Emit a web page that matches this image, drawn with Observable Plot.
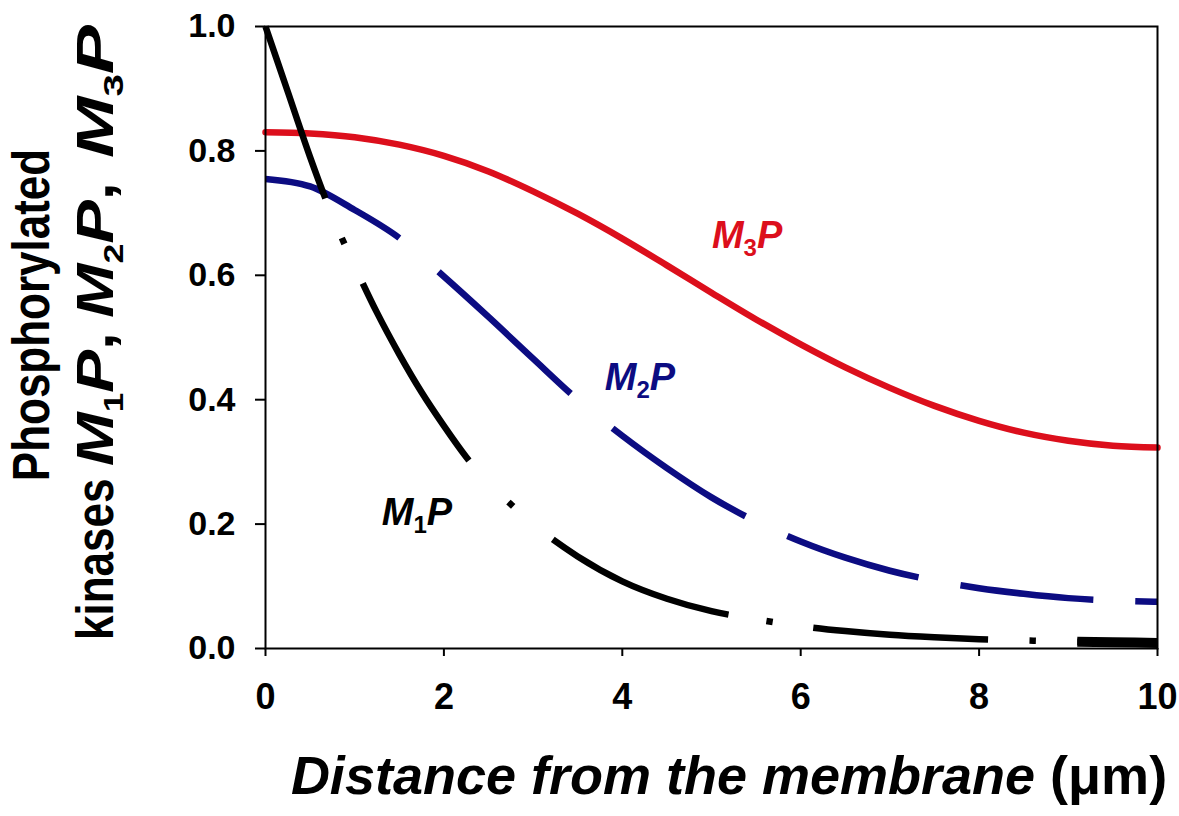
<!DOCTYPE html>
<html>
<head>
<meta charset="utf-8">
<script src="https://cdn.jsdelivr.net/npm/d3@7"></script>
<script src="https://cdn.jsdelivr.net/npm/@observablehq/plot@0.6"></script>
<style>
  html, body { margin: 0; padding: 0; background: #fff; }
  svg { display: block; }
  g[aria-label="x-axis tick label"] text { font-size: 36px; font-weight: bold; }
  g[aria-label="y-axis tick label"] text { font-size: 34px; font-weight: bold; }
</style>
</head>
<body>
<div id="chart"></div>
<script>
// ---------- data ----------
const xTicks = [0, 2, 4, 6, 8, 10];
const yTicks = [0, 0.2, 0.4, 0.6, 0.8, 1.0];

const m1x = [0, 0.25, 0.5, 0.75, 1, 1.25, 1.5, 1.75, 2, 2.25, 2.5, 2.75, 3, 3.5, 4, 4.5, 5, 5.5, 6, 6.5, 7, 7.5, 8, 8.5, 9, 9.5, 10];
const m1y = [1.0, 0.895, 0.79, 0.695, 0.615, 0.54, 0.473, 0.412, 0.358, 0.308, 0.266, 0.232, 0.2, 0.148, 0.108, 0.08, 0.06, 0.047, 0.036, 0.028, 0.022, 0.018, 0.015, 0.013, 0.011, 0.01, 0.009];

const m2x = [0, 0.5, 1, 1.5, 2, 2.5, 3, 3.5, 4, 4.5, 5, 5.5, 6, 6.5, 7, 7.5, 8, 8.5, 9, 9.5, 10];
const m2y = [0.755, 0.743, 0.705, 0.66, 0.598, 0.533, 0.466, 0.40, 0.342, 0.29, 0.243, 0.204, 0.172, 0.146, 0.125, 0.109, 0.097, 0.088, 0.081, 0.077, 0.075];

const m3x = [0, 0.5, 1, 1.5, 2, 2.5, 3, 3.5, 4, 4.5, 5, 5.5, 6, 6.5, 7, 7.5, 8, 8.5, 9, 9.5, 10];
const m3y = [0.83, 0.828, 0.822, 0.81, 0.792, 0.767, 0.735, 0.699, 0.659, 0.616, 0.572, 0.529, 0.489, 0.452, 0.419, 0.39, 0.366, 0.347, 0.334, 0.326, 0.323];

const seriesNames = ["M1P", "M2P", "M3P"];
const seriesColors = ["#000000", "#0c0c82", "#dc0f1c"];
const labelX = [1.31, 3.81, 5.01];
const labelY = [0.198, 0.415, 0.643];

// ---------- line style: dash pieces given in x units (dots have start == end) ----------
const m1DashStyle = [[0, 0.67], [0.87, 0.87], [1.09, 2.28], [2.75, 2.75], [3.22, 5.19], [5.65, 5.65], [6.14, 8.1], [8.6, 8.6], [9.1, 10]];
const m1HeavyStyle = [[9.1, 10]];
const m2DashStyle = [[0, 1.5], [1.94, 3.42], [3.89, 5.38], [5.85, 7.32], [7.79, 9.28], [9.75, 10]];

// ---------- build ----------
const toRows = (xs, ys) => xs.map((x, i) => ({x, y: ys[i]}));
const d1 = toRows(m1x, m1y), d2 = toRows(m2x, m2y), d3r = toRows(m3x, m3y);

const font = "'Liberation Sans', Arial, Helvetica, sans-serif";

const plot = Plot.plot({
  width: 1179,
  height: 816,
  marginLeft: 265,
  marginRight: 22,
  marginTop: 26,
  marginBottom: 168,
  style: {fontFamily: font, background: "#fff", color: "#000", overflow: "visible"},
  x: {domain: [0, 10]},
  y: {domain: [0, 1]},
  marks: [
    Plot.line(d3r, {x: "x", y: "y", stroke: seriesColors[2], strokeWidth: 6.5, curve: "monotone-x"}),
    Plot.line(d2, {x: "x", y: "y", stroke: seriesColors[1], strokeWidth: 6.5, curve: "monotone-x", strokeLinecap: "butt"}),
    Plot.line(d1, {x: "x", y: "y", stroke: seriesColors[0], strokeWidth: 6.5, curve: "monotone-x", strokeLinecap: "butt"}),
    Plot.line(d1, {x: "x", y: "y", stroke: seriesColors[0], strokeWidth: 10, curve: "monotone-x", strokeLinecap: "butt"}),
    Plot.frame({stroke: "#000", strokeWidth: 2}),
    Plot.axisX({ticks: xTicks, tickSize: 8, tickPadding: 27, tickFormat: d => String(d),
      fontSize: 36, fontWeight: "bold", strokeWidth: 2, label: null}),
    Plot.axisY({ticks: yTicks, tickSize: 10, tickPadding: 20, tickFormat: d3.format(".1f"),
      fontSize: 34, fontWeight: "bold", strokeWidth: 2, label: null})
  ]
});

document.getElementById("chart").appendChild(plot);

const svg = d3.select(plot);
const sx = plot.scale("x"), sy = plot.scale("y");

// ---------- dash patterns placed along each path ----------
function lengthAtX(path, px) {
  let lo = 0, hi = path.getTotalLength();
  for (let k = 0; k < 40; k++) {
    const mid = (lo + hi) / 2;
    if (path.getPointAtLength(mid).x < px) lo = mid; else hi = mid;
  }
  return (lo + hi) / 2;
}
function applyDashes(path, pieces, dotHalf) {
  const total = path.getTotalLength();
  const arr = [0];
  let pos = 0;
  pieces.forEach(([a, b]) => {
    let La = a <= 0 ? 0 : lengthAtX(path, sx.apply(a));
    let Lb = b >= 10 ? total : lengthAtX(path, sx.apply(b));
    if (a === b) { La -= dotHalf; Lb += dotHalf; }
    La = Math.max(La, pos);
    arr.push(La - pos, Lb - La);
    pos = Lb;
  });
  arr.push(total - pos + 20);
  path.setAttribute("stroke-dasharray", arr.map(v => v.toFixed(2)).join(","));
}
const linePaths = svg.selectAll('g[aria-label="line"] path').nodes();
// order: M3P, M2P, M1P, M1P heavy tail
applyDashes(linePaths[1], m2DashStyle, 3);
applyDashes(linePaths[2], m1DashStyle, 3.2);
applyDashes(linePaths[3], m1HeavyStyle, 3);

// ---------- series labels with subscripts ----------
seriesNames.forEach((name, i) => {
  const t = svg.append("text")
    .attr("x", sx.apply(labelX[i]))
    .attr("y", sy.apply(labelY[i]))
    .attr("text-anchor", "start")
    .attr("fill", seriesColors[i])
    .attr("font-family", font)
    .attr("font-weight", "bold")
    .attr("font-style", "italic")
    .attr("font-size", 38);
  t.append("tspan").text(name[0]);
  t.append("tspan").attr("dy", 8).attr("font-size", 24).attr("font-style", "normal").text(name[1]);
  t.append("tspan").attr("dy", -8).text(name.slice(2));
});

// ---------- y-axis title (two lines, rotated; glyphs a bit taller than wide like the reference) ----------
const yTitleTransform = "rotate(-90) scale(1,1.18)";
svg.append("text")
  .attr("transform", yTitleTransform)
  .attr("x", -315).attr("y", 41.5)
  .attr("text-anchor", "middle")
  .attr("font-family", font).attr("font-weight", "bold").attr("font-size", 44)
  .attr("fill", "#000")
  .text("Phosphorylated");

svg.append("text")
  .attr("transform", yTitleTransform)
  .attr("x", -640).attr("y", 96)
  .attr("text-anchor", "start")
  .attr("font-family", font).attr("font-weight", "bold").attr("font-size", 44)
  .attr("fill", "#000")
  .text("kinases");

const groupStart = [-466, -318, -158];
const groupLen = [134, 136, 133];
seriesNames.forEach((name, i) => {
  const g = svg.append("text")
    .attr("transform", yTitleTransform)
    .attr("x", groupStart[i]).attr("y", 96)
    .attr("text-anchor", "start")
    .attr("font-family", font).attr("font-weight", "bold").attr("font-size", 44)
    .attr("textLength", groupLen[i]).attr("lengthAdjust", "spacingAndGlyphs")
    .attr("fill", "#000");
  g.append("tspan").attr("font-style", "italic").text(name[0]);
  g.append("tspan").attr("dy", 8).attr("font-size", 24).text(name[1]);
  g.append("tspan").attr("dy", -8).attr("font-style", "italic").text(name.slice(2));
  if (i < seriesNames.length - 1) g.append("tspan").text(",");
});

// ---------- x-axis title ----------
const xt = svg.append("text")
  .attr("x", 729).attr("y", 794)
  .attr("text-anchor", "middle")
  .attr("font-family", font).attr("font-weight", "bold").attr("font-size", 54)
  .attr("fill", "#000");
xt.append("tspan").attr("font-style", "italic").text("Distance from the membrane ");
xt.append("tspan").text("(μm)");
</script>
</body>
</html>
